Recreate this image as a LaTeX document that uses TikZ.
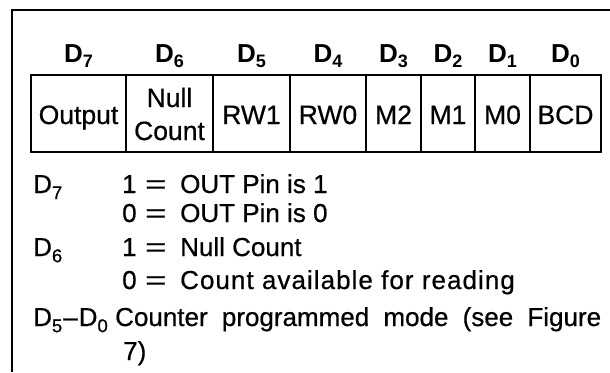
\documentclass[tikz,border=0pt]{standalone}
\usepackage{fontspec}
\setmainfont{Liberation Sans}[FakeBold=0.6]
\newfontfamily\hdrfont{Liberation Sans Bold}
\newfontfamily\widefont{Liberation Sans}[FakeBold=0.6,LetterSpace=4]
\newcommand\sbs[1]{\raisebox{-0.45ex}{\fontsize{18.5}{18.5}\selectfont #1}}
\newcommand\hsbs[1]{\raisebox{-0.4ex}{\fontsize{18}{18}\selectfont #1}}
\begin{document}
\begin{tikzpicture}[x=1pt,y=-1pt,
  hdr/.style={anchor=base, font=\fontsize{26}{26}\hdrfont, inner sep=0pt},
  txt/.style={anchor=base, font=\fontsize{26.5}{26.5}\selectfont, inner sep=0pt},
  lbl/.style={anchor=base west, font=\fontsize{26}{26}\selectfont, inner sep=0pt},
  frame/.style={line width=1.6pt},
  cellbox/.style={line width=1.7pt}]
\useasboundingbox (0,0) rectangle (610,372);
\draw[frame] (610,10) -- (12,10) -- (12,372);
% register cells
\draw[cellbox] (31,75) rectangle (126,152);
\draw[cellbox] (126,75) rectangle (213,152);
\draw[cellbox] (213,75) rectangle (290,152);
\draw[cellbox] (290,75) rectangle (366,152);
\draw[cellbox] (366,75) rectangle (421,152);
\draw[cellbox] (421,75) rectangle (475,152);
\draw[cellbox] (475,75) rectangle (530,152);
\draw[cellbox] (530,75) rectangle (601,152);
% headers
\node[hdr] (h7) at (78.5,62) {D\hsbs{7}};
\node[hdr] (h6) at (169.5,62) {D\hsbs{6}};
\node[hdr] (h5) at (251.5,62) {D\hsbs{5}};
\node[hdr] (h4) at (328,62) {D\hsbs{4}};
\node[hdr] (h3) at (393.5,62) {D\hsbs{3}};
\node[hdr] (h2) at (448,62) {D\hsbs{2}};
\node[hdr] (h1) at (502.5,62) {D\hsbs{1}};
\node[hdr] (h0) at (565.5,62) {D\hsbs{0}};
% cell texts
\node[txt] (c7) at (78.5,124) {Output};
\node[txt] (c6a) at (169.5,107) {Null};
\node[txt] (c6b) at (169.5,140) {Count};
\node[txt] (c5) at (251.5,124) {RW1};
\node[txt] (c4) at (328,124) {RW0};
\node[txt] (c3) at (393.5,124) {M2};
\node[txt] (c2) at (448,124) {M1};
\node[txt] (c1) at (502.5,124) {M0};
\node[txt] (c0) at (565.5,124) {BCD};
% descriptions
\node[lbl] (d7) at (33,193) {D\sbs{7}};
\node[lbl] (d7a) at (122,193) {1};
\node[lbl] (d7ae) at (145,193) {\scalebox{1.4}[1]{=}};
\node[lbl] (d7at) at (180,193) {OUT Pin is 1};
\node[lbl] (d7b) at (122,222) {0};
\node[lbl] (d7be) at (145,222) {\scalebox{1.4}[1]{=}};
\node[lbl] (d7bt) at (180,222) {OUT Pin is 0};
\node[lbl] (d6) at (33,256) {D\sbs{6}};
\node[lbl] (d6a) at (122,256) {1};
\node[lbl] (d6ae) at (145,256) {\scalebox{1.4}[1]{=}};
\node[lbl] (d6at) at (180,256) {Null Count};
\node[lbl] (d6b) at (122,289) {0};
\node[lbl] (d6be) at (145,289) {\scalebox{1.4}[1]{=}};
\node[lbl] (d6bt) at (180,289) {\widefont Count available for reading};
\node[lbl] (d50) at (33,326) {D\sbs{5}\kern1pt--\kern1ptD\sbs{0}};
\node[lbl] (d50t) at (115,326) {\makebox[486pt][s]{Counter programmed mode (see Figure}};
\node[lbl] (d50u) at (123,360) {7)};
\end{tikzpicture}
\end{document}
